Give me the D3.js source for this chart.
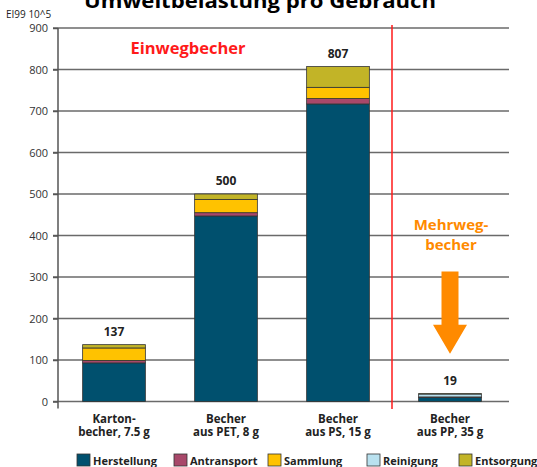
<!DOCTYPE html>
<html>
<head>
<meta charset="utf-8">
<script src="https://cdn.jsdelivr.net/npm/d3@7"></script>
<style>
  body { margin: 0; background: #fff; }
  text { font-family: "Open Sans", "Noto Sans", sans-serif; }
</style>
</head>
<body>
<script>
// data
const cups = ["Karton-|becher, 7.5 g", "Becher|aus PET, 8 g", "Becher|aus PS, 15 g", "Becher|aus PP, 35 g"];
const totals = [137, 500, 807, 19];
const herstellung = [93, 447, 717, 10];
const antransport = [6, 8, 13, 1];
const sammlung = [30, 32, 27, 0];
const reinigung = [0, 0, 0, 7];
const entsorgung = [8, 13, 50, 1];
const yTicks = [0, 100, 200, 300, 400, 500, 600, 700, 800, 900];
const seriesNames = ["Herstellung", "Antransport", "Sammlung", "Reinigung", "Entsorgung"];
const seriesColors = ["#00506e", "#a8486a", "#ffc200", "#b9e1ef", "#c2b427"];

const width = 537, height = 467;

const svg = d3.select("body").append("svg")
  .attr("width", width)
  .attr("height", height);

const xScale = d3.scaleBand()
  .domain(cups)
  .range([58, 506])
  .paddingInner(0.44)
  .paddingOuter(0.22);

const yScale = d3.scaleLinear()
  .domain([0, 900])
  .range([401.5, 28]);

// title (partly cut at top, as in the source)
svg.append("text")
  .attr("x", 260).attr("y", 8)
  .attr("text-anchor", "middle")
  .attr("font-size", 20).attr("font-weight", "bold")
  .attr("textLength", 352).attr("lengthAdjust", "spacingAndGlyphs")
  .text("Umweltbelastung pro Gebrauch");

svg.append("text")
  .attr("x", 6).attr("y", 18)
  .attr("font-size", 10).attr("fill", "#222")
  .text("EI99 10^5");

// grid lines
svg.append("g").selectAll("line")
  .data(yTicks)
  .join("line")
  .attr("x1", 53).attr("x2", 509)
  .attr("y1", d => yScale(d)).attr("y2", d => yScale(d))
  .attr("stroke", "#6a6a6a").attr("stroke-width", 1.5);

// y axis
const yAxis = d3.axisLeft(yScale).tickValues(yTicks).tickSize(5).tickPadding(5);
const gY = svg.append("g").attr("transform", "translate(58,0)").call(yAxis);
gY.select(".domain").remove();
gY.selectAll(".tick line").attr("stroke", "#555").attr("stroke-width", 1.5);
gY.selectAll("text").attr("font-size", 11).attr("fill", "#333");
svg.append("line")
  .attr("x1", 58).attr("x2", 58)
  .attr("y1", yScale(900)).attr("y2", yScale(0) + 7)
  .attr("stroke", "#555").attr("stroke-width", 1.5);

// separator
svg.append("line")
  .attr("x1", 392).attr("x2", 392)
  .attr("y1", 25).attr("y2", 409)
  .attr("stroke", "#ff1a1a").attr("stroke-width", 1.5);

// stacked bars
const rows = cups.map((c, i) => ({
  cup: c,
  Herstellung: herstellung[i], Antransport: antransport[i], Sammlung: sammlung[i],
  Reinigung: reinigung[i], Entsorgung: entsorgung[i]
}));
const stacked = d3.stack().keys(seriesNames)(rows);

svg.append("g").selectAll("g")
  .data(stacked)
  .join("g")
  .attr("fill", (d, i) => seriesColors[i])
  .selectAll("rect")
  .data(d => d.filter(p => p[1] > p[0]))
  .join("rect")
  .attr("x", d => xScale(d.data.cup))
  .attr("width", xScale.bandwidth())
  .attr("y", d => yScale(d[1]))
  .attr("height", d => yScale(d[0]) - yScale(d[1]))
  .attr("stroke", "#333").attr("stroke-width", 0.8);

// totals
svg.append("g").selectAll("text")
  .data(totals)
  .join("text")
  .attr("x", (d, i) => xScale(cups[i]) + xScale.bandwidth() / 2)
  .attr("y", d => yScale(d) - 9)
  .attr("text-anchor", "middle")
  .attr("font-size", 12).attr("font-weight", "bold").attr("fill", "#222")
  .text(d => d);

// x labels, two lines each
const labelLines = cups.flatMap(c => c.split("|").map((s, j) => ({ cup: c, line: j, text: s })));
svg.append("g").selectAll("text")
  .data(labelLines)
  .join("text")
  .attr("x", d => xScale(d.cup) + xScale.bandwidth() / 2)
  .attr("y", d => 423 + d.line * 13)
  .attr("text-anchor", "middle")
  .attr("font-size", 11.5).attr("font-weight", "bold").attr("fill", "#222")
  .text(d => d.text);

// annotations
svg.append("text")
  .attr("x", 188).attr("y", 54)
  .attr("text-anchor", "middle")
  .attr("font-size", 16.5).attr("font-weight", "bold").attr("fill", "#ff1a1a")
  .text("Einwegbecher");

const ppX = xScale(cups[3]) + xScale.bandwidth() / 2;
svg.append("text")
  .attr("x", ppX + 1).attr("y", 230)
  .attr("text-anchor", "middle")
  .attr("font-size", 15).attr("font-weight", "bold").attr("fill", "#ff8a00")
  .text("Mehrweg-");
svg.append("text")
  .attr("x", ppX + 1).attr("y", 250)
  .attr("text-anchor", "middle")
  .attr("font-size", 15).attr("font-weight", "bold").attr("fill", "#ff8a00")
  .text("becher");

const shaftTop = yScale(313), headTop = yScale(185), tip = yScale(115);
svg.append("path")
  .attr("d", `M${ppX - 8.5},${shaftTop} L${ppX + 8.5},${shaftTop} L${ppX + 8.5},${headTop}
    L${ppX + 17},${headTop} L${ppX},${tip} L${ppX - 17},${headTop} L${ppX - 8.5},${headTop} Z`)
  .attr("fill", "#ff8a00");

// legend
const legendX = [77, 174, 268, 367, 459];
const lg = svg.append("g").selectAll("g")
  .data(seriesNames)
  .join("g")
  .attr("transform", (d, i) => `translate(${legendX[i]},454)`);
lg.append("rect")
  .attr("width", 13).attr("height", 12)
  .attr("fill", (d, i) => seriesColors[i])
  .attr("stroke", "#333").attr("stroke-width", 0.8);
lg.append("text")
  .attr("x", 16).attr("y", 11)
  .attr("font-size", 11).attr("font-weight", "bold").attr("fill", "#222")
  .text(d => d);
</script>
</body>
</html>
